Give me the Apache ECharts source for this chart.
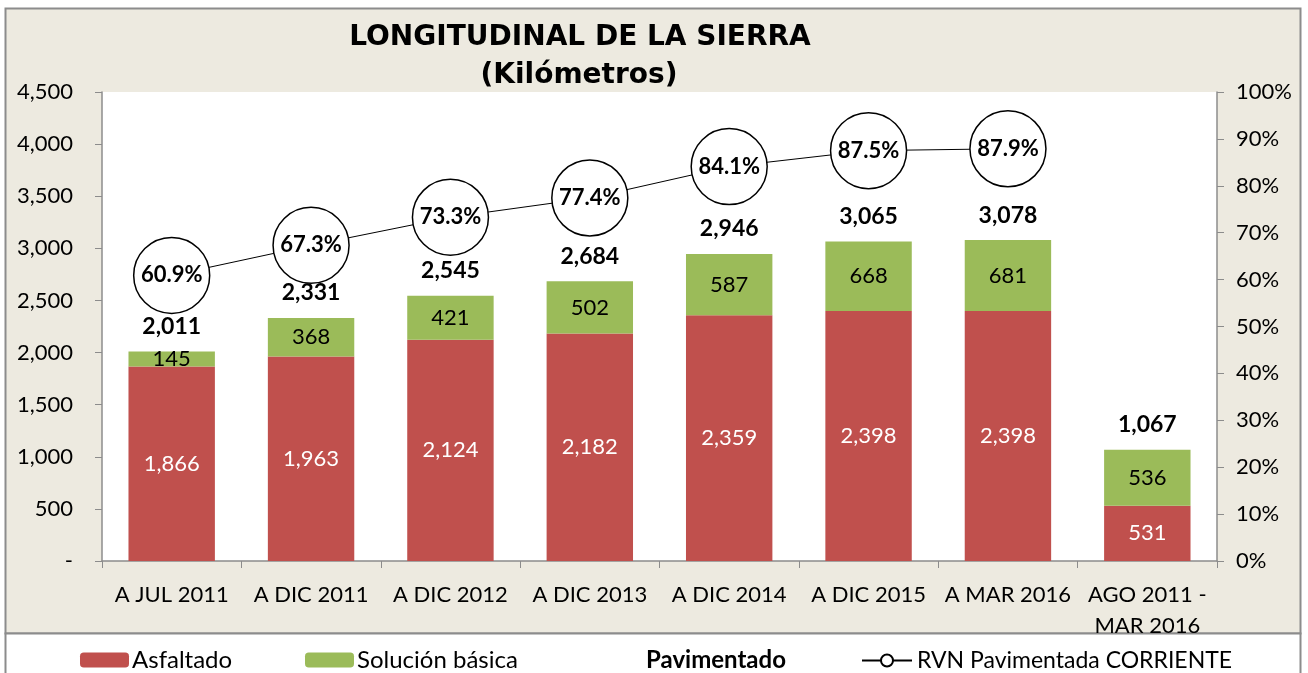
<!DOCTYPE html>
<html>
<head>
<meta charset="utf-8">
<script src="https://cdn.jsdelivr.net/npm/echarts@6/dist/echarts.min.js"></script>
<style>
  html, body { margin: 0; padding: 0; background: #fff; }
  #chart { width: 1308px; height: 673px; }
</style>
</head>
<body>
<div id="chart"></div>
<script>
var categorias = ['A JUL 2011', 'A DIC 2011', 'A DIC 2012', 'A DIC 2013', 'A DIC 2014', 'A DIC 2015', 'A MAR 2016', 'AGO 2011 -\nMAR 2016'];
var asfaltado = [1866, 1963, 2124, 2182, 2359, 2398, 2398, 531];
var solucionBasica = [145, 368, 421, 502, 587, 668, 681, 536];
var pavimentado = [2011, 2331, 2545, 2684, 2946, 3065, 3078, 1067];
var rvnCorriente = [60.9, 67.3, 73.3, 77.4, 84.1, 87.5, 87.9, null];

var fuente = 'Lato, "Open Sans", sans-serif';
var fuenteTitulo = '"DejaVu Sans", "Liberation Sans", sans-serif';
function miles(v) { return Number(v).toLocaleString('en-US'); }

var myChart = echarts.init(document.getElementById('chart'));

option = {
    backgroundColor: '#ffffff',
    animation: false,
    textStyle: { fontFamily: fuente },
    title: [
        {
            text: 'LONGITUDINAL DE LA SIERRA',
            left: 575, top: 19, textAlign: 'center',
            textStyle: { fontFamily: fuenteTitulo, fontWeight: 'bold', fontSize: 28, color: '#000' }
        },
        {
            text: '(Kilómetros)',
            left: 574, top: 57, textAlign: 'center',
            textStyle: { fontFamily: fuenteTitulo, fontWeight: 'bold', fontSize: 28, color: '#000' }
        }
    ],
    graphic: [
        {
            type: 'rect', z: -5, silent: true,
            shape: { x: 5.5, y: 8.5, width: 1295, height: 625 },
            style: { fill: '#EDEAE0', stroke: '#8c8c8c', lineWidth: 2 }
        },
        {
            type: 'rect', z: -5, silent: true,
            shape: { x: 5.5, y: 633.5, width: 1295, height: 60 },
            style: { fill: '#ffffff', stroke: '#8c8c8c', lineWidth: 2 }
        }
    ],
    grid: {
        left: 102, right: 91, top: 92, bottom: 112,
        show: true, backgroundColor: '#ffffff', borderWidth: 0
    },
    legend: [
        {
            left: 75, top: 643, itemWidth: 49, itemHeight: 15, itemGap: 0,
            textStyle: { fontSize: 24, color: '#000', padding: [0, 0, 0, -2] },
            data: ['Asfaltado']
        },
        {
            left: 300, top: 643, itemWidth: 49, itemHeight: 15, itemGap: 0,
            textStyle: { fontSize: 24, color: '#000', padding: [0, 0, 0, -2] },
            data: ['Solución básica']
        },
        {
            left: 587, top: 643, itemWidth: 49, itemHeight: 15, itemGap: 0,
            textStyle: { fontSize: 24, color: '#000', fontWeight: 'bold' },
            data: [{ name: 'Pavimentado', icon: 'none' }]
        },
        {
            left: 856, top: 644, itemWidth: 50, itemHeight: 15, itemGap: 0,
            textStyle: { fontSize: 23, color: '#000' },
            data: ['RVN Pavimentada CORRIENTE']
        }
    ],
    xAxis: {
        type: 'category',
        data: categorias,
        axisLine: { lineStyle: { color: '#8c8c8c', width: 1.5 } },
        axisTick: { show: true, length: 7, lineStyle: { color: '#8c8c8c' } },
        axisLabel: { fontSize: 22, color: '#000', margin: 18, lineHeight: 31, interval: 0 }
    },
    yAxis: [
        {
            type: 'value', min: 0, max: 4500, interval: 500,
            splitLine: { show: false },
            axisLine: { show: true, lineStyle: { color: '#8c8c8c', width: 1.5 } },
            axisTick: { show: true, length: 7, lineStyle: { color: '#8c8c8c' } },
            axisLabel: {
                fontSize: 22, color: '#000', margin: 29,
                formatter: function (v) { return v === 0 ? '-' : miles(v); }
            }
        },
        {
            type: 'value', min: 0, max: 100, interval: 10, position: 'right',
            splitLine: { show: false },
            axisLine: { show: true, lineStyle: { color: '#8c8c8c', width: 1.5 } },
            axisTick: { show: true, length: 7, lineStyle: { color: '#8c8c8c' } },
            axisLabel: { fontSize: 22, color: '#000', margin: 19, formatter: '{value}%' }
        }
    ],
    series: [
        {
            name: 'Asfaltado',
            type: 'bar', stack: 'km', barWidth: '62%',
            itemStyle: { color: '#C0504D' },
            label: { show: true, position: 'inside', fontSize: 22, color: '#fff', formatter: function (p) { return miles(p.value); } },
            data: asfaltado
        },
        {
            name: 'Solución básica',
            type: 'bar', stack: 'km',
            itemStyle: { color: '#9BBB59' },
            label: { show: true, position: 'inside', fontSize: 22, color: '#000', formatter: function (p) { return miles(p.value); } },
            data: solucionBasica
        },
        {
            name: 'Pavimentado',
            type: 'line', symbol: 'circle', symbolSize: 1, showSymbol: true,
            lineStyle: { width: 0, opacity: 0 },
            itemStyle: { color: 'rgba(0,0,0,0)', borderWidth: 0 },
            label: { show: true, position: 'top', distance: 13, fontSize: 23, fontWeight: 'bold', color: '#000', formatter: function (p) { return miles(p.value); } },
            data: pavimentado,
            z: 5
        },
        {
            name: 'RVN Pavimentada CORRIENTE',
            type: 'line', yAxisIndex: 1,
            symbol: 'circle', symbolSize: 76,
            lineStyle: { color: '#000', width: 1 },
            itemStyle: { color: '#fff', borderColor: '#000', borderWidth: 1.5 },
            label: { show: true, position: 'inside', fontSize: 22, fontWeight: 'bold', color: '#000', formatter: function (p) { return p.value.toFixed(1) + '%'; } },
            data: rvnCorriente,
            z: 6
        }
    ]
};

myChart.setOption(option);
</script>
</body>
</html>
